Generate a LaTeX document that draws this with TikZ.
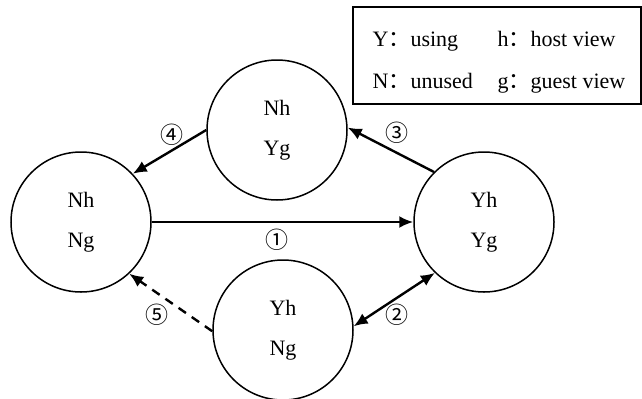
\documentclass[tikz,border=0pt]{standalone}
\usepackage{fontspec}
\setmainfont{Liberation Serif}
\newfontfamily\cjk{Noto Sans CJK SC}
\usetikzlibrary{arrows.meta}

\tikzset{
  cell/.style={circle,draw,line width=0.75pt,minimum size=70pt,inner sep=0pt,align=center},
  num/.style={font=\cjk\fontsize{11.5}{11.5}\selectfont,inner sep=0pt},
  key/.style={anchor=base west},
  tip/.style={line width=1.2pt},
}

\begin{document}
\begin{tikzpicture}[-{Latex[length=7pt,width=6pt]},x=0.5pt,y=0.5pt,line width=1pt,font=\fontsize{11}{20}\selectfont]
\useasboundingbox (0,0) rectangle (642,398);

\node[cell] (nn) at (81,176) {Nh\\Ng};
\node[cell] (ny) at (277,268) {Nh\\Yg};
\node[cell] (yy) at (484,176) {Yh\\Yg};
\node[cell] (yn) at (283,68) {Yh\\Ng};

% legend
\draw[-] (353,294) rectangle (641,391);
\node[key] (ky) at (365,352) {Y{\cjk ：}using};
\node[key] (kn) at (365,310) {N{\cjk ：}unused};
\node[key] (kh) at (490,352) {h{\cjk ：}host view};
\node[key] (kg) at (490,310) {g{\cjk ：}guest view};

\draw[tip] (nn) -- (yy);
\draw[tip] (yy.135) -- (ny.2);
\draw[tip] (ny.180) -- (nn.43);
\draw[tip,{Latex[length=7pt,width=6pt]}-{Latex[length=7pt,width=6pt]}] (yn.3) -- (yy.226);
\draw[tip,dash pattern=on 4.5pt off 3.5pt] (yn.181) -- (nn.313);

\node[num] (l1) at (277,158) {①};
\node[num] (l2) at (397,83) {②};
\node[num] (l3) at (397,265) {③};
\node[num] (l4) at (172,263) {④};
\node[num] (l5) at (157,83) {⑤};

\end{tikzpicture}
\end{document}
